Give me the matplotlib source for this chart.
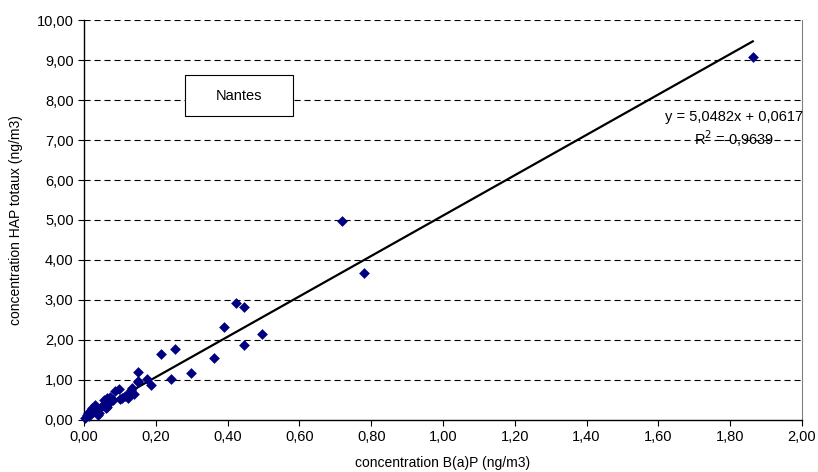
import matplotlib
matplotlib.use("Agg")
import numpy as np
import matplotlib.pyplot as plt
from matplotlib.patches import Rectangle
from matplotlib.ticker import FuncFormatter, MultipleLocator

plt.rcParams["font.family"] = ["Liberation Sans", "DejaVu Sans"]

# concentrations B(a)P (ng/m3) et HAP totaux (ng/m3)
bap = [0.004, 0.008, 0.012, 0.015, 0.02, 0.022, 0.025, 0.03, 0.032, 0.035,
       0.04, 0.041, 0.045, 0.05, 0.055, 0.06, 0.063, 0.065, 0.07, 0.073,
       0.08, 0.087, 0.097, 0.10, 0.107, 0.115, 0.12, 0.123, 0.13, 0.135,
       0.14, 0.15, 0.15, 0.151, 0.175, 0.187, 0.214, 0.241, 0.254, 0.297,
       0.363, 0.391, 0.423, 0.445, 0.447, 0.497, 0.718, 0.78, 1.863]
hap = [0.05, 0.12, 0.17, 0.10, 0.25, 0.29, 0.20, 0.22, 0.37, 0.30,
       0.12, 0.17, 0.29, 0.35, 0.50, 0.30, 0.32, 0.54, 0.42, 0.58,
       0.50, 0.72, 0.78, 0.52, 0.54, 0.61, 0.62, 0.54, 0.75, 0.81,
       0.65, 0.95, 0.98, 1.21, 1.03, 0.88, 1.64, 1.03, 1.78, 1.18,
       1.54, 2.33, 2.92, 1.87, 2.82, 2.16, 4.98, 3.67, 9.08]

# droite de tendance affichée
pente = 5.0482
ordonnee = 0.0617
r2 = 0.9639


def virgule(v, pos):
    return f"{v:.2f}".replace(".", ",")


fig = plt.figure(figsize=(8.18, 4.72), dpi=100)
ax = fig.add_axes([0.1027, 0.1102, 0.8777, 0.8474])

ax.set_xlim(0, 2)
ax.set_ylim(0, 10)
ax.xaxis.set_major_locator(MultipleLocator(0.2))
ax.yaxis.set_major_locator(MultipleLocator(1))
ax.xaxis.set_major_formatter(FuncFormatter(virgule))
ax.yaxis.set_major_formatter(FuncFormatter(virgule))
ax.tick_params(direction="out", length=4, width=0.8, labelsize=10.5, colors="black")

for yv in range(1, 11):
    ax.axhline(yv, color="black", lw=0.8, linestyle=(0, (5.5, 3.5)), zorder=1)

ax.spines["top"].set_visible(False)
ax.spines["right"].set_color("#808080")
ax.spines["right"].set_linewidth(0.8)
ax.spines["left"].set_linewidth(1.0)
ax.spines["bottom"].set_linewidth(1.0)

xl = np.array([0, max(bap)])
ax.plot(xl, pente * xl + ordonnee, color="black", lw=1.6, zorder=2)

ax.scatter(bap, hap, marker="D", s=30, color="#000080", zorder=3, clip_on=False,
           linewidths=0)

ax.add_patch(Rectangle((0.281, 7.6), 0.301, 1.025, facecolor="white",
                       edgecolor="black", linewidth=0.8, zorder=4))
ax.text(0.432, 8.1, "Nantes", ha="center", va="center", fontsize=10.5, zorder=5)

eq = "y = " + f"{pente:.4f}".replace(".", ",") + "x + " + f"{ordonnee:.4f}".replace(".", ",")
ax.text(1.812, 7.57, eq, ha="center", va="center", fontsize=10.5, zorder=4)
ax.text(1.812, 7.04, "R$^2$ = " + f"{r2:.4f}".replace(".", ","), ha="center",
        va="center", fontsize=10.5, zorder=4)

ax.set_xlabel("concentration B(a)P (ng/m3)", fontsize=10, labelpad=8)
ax.set_ylabel("concentration HAP totaux (ng/m3)", fontsize=10, labelpad=10)

fig.savefig("out.png", dpi=100, facecolor="white")
